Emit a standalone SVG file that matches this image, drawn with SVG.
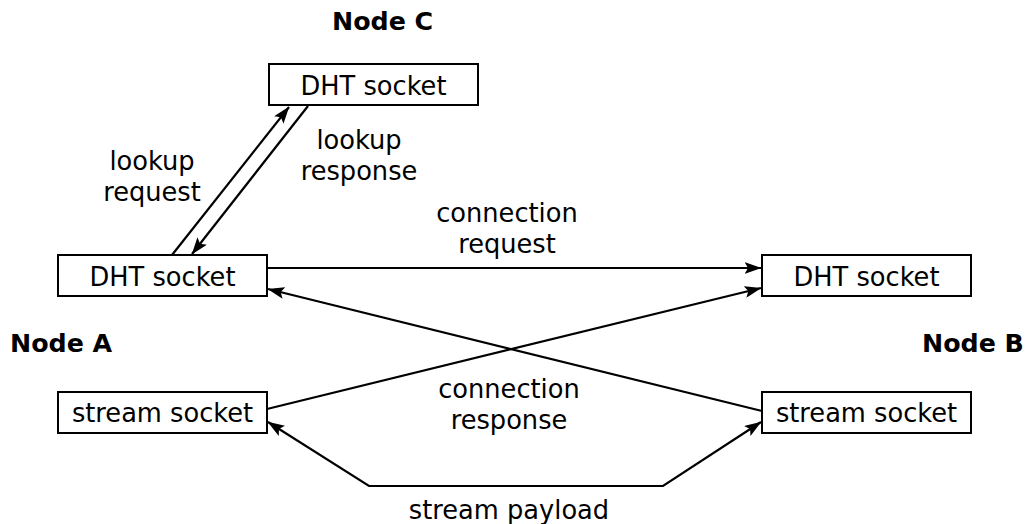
<svg xmlns="http://www.w3.org/2000/svg" width="1028" height="524" viewBox="0 0 1028 524">
<style>
.box{fill:#fff;stroke:#000;stroke-width:2}
.t{font-family:"DejaVu Sans",sans-serif;font-size:25.7px;fill:#000;text-anchor:middle}
.b{font-family:"DejaVu Sans",sans-serif;font-size:25.3px;font-weight:bold;fill:#000}
.c{fill:none;stroke:#000;stroke-width:2.2}
</style>
<defs>
<marker id="ah" viewBox="0 0 17 12" refX="16.5" refY="6" markerWidth="17" markerHeight="12" markerUnits="userSpaceOnUse" orient="auto-start-reverse">
<path d="M0,0 L17,6 L0,12 L3.5,6 Z" fill="#000"/>
</marker>
</defs>
<rect width="1028" height="524" fill="#fff"/>
<g id="connectors">
<line class="c" x1="172" y1="255" x2="289" y2="107" marker-end="url(#ah)"/>
<line class="c" x1="308" y1="106" x2="192" y2="254" marker-end="url(#ah)"/>
<line class="c" x1="267" y1="268" x2="761" y2="268" marker-end="url(#ah)"/>
<line class="c" x1="762" y1="411" x2="268" y2="289" marker-end="url(#ah)"/>
<line class="c" x1="267" y1="409" x2="761" y2="288" marker-end="url(#ah)"/>
<polyline class="c" points="268,422 369,486 663,486 761,422" marker-start="url(#ah)" marker-end="url(#ah)"/>
</g>
<g id="nodeC">
<text class="b" x="332" y="30">Node C</text>
<rect class="box" x="269" y="64" width="209" height="41"/>
<text class="t" x="373.5" y="95">DHT socket</text>
</g>
<g id="nodeA-dht">
<rect class="box" x="58" y="255" width="209" height="41"/>
<text class="t" x="162.5" y="286">DHT socket</text>
</g>
<g id="nodeA-stream">
<rect class="box" x="58" y="392" width="209" height="41"/>
<text class="t" x="162.5" y="422">stream socket</text>
</g>
<g id="nodeA-label"><text class="b" x="10" y="352">Node A</text></g>
<g id="nodeB-dht">
<rect class="box" x="762" y="255" width="209" height="41"/>
<text class="t" x="866.5" y="286">DHT socket</text>
</g>
<g id="nodeB-stream">
<rect class="box" x="762" y="392" width="209" height="41"/>
<text class="t" x="866.5" y="422">stream socket</text>
</g>
<g id="nodeB-label"><text class="b" x="922" y="352">Node B</text></g>
<g id="labels">
<text class="t" x="152" y="170">lookup</text>
<text class="t" x="152" y="201">request</text>
<text class="t" x="359" y="149">lookup</text>
<text class="t" x="359" y="180">response</text>
<text class="t" x="507" y="222">connection</text>
<text class="t" x="507" y="253">request</text>
<text class="t" x="509" y="398">connection</text>
<text class="t" x="509" y="429">response</text>
<text class="t" x="509" y="519">stream payload</text>
</g>
</svg>
